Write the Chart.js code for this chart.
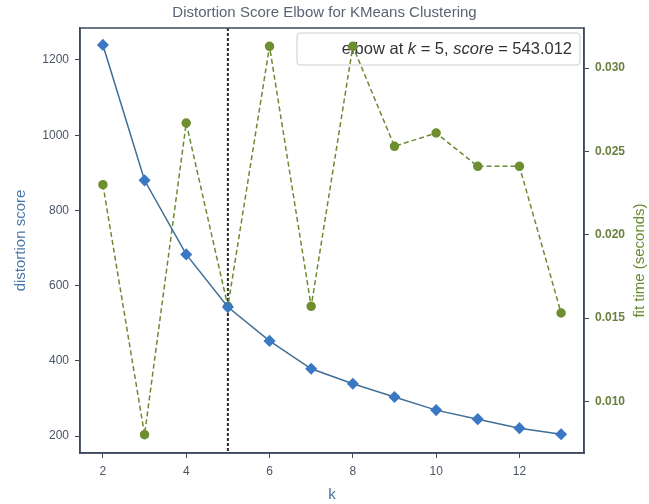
<!DOCTYPE html>
<html>
<head>
<meta charset="utf-8">
<script src="https://cdn.jsdelivr.net/npm/chart.js@4"></script>
<style>
html,body{margin:0;padding:0;background:#fff;}
#wrap{width:649px;height:504px;}
</style>
</head>
<body>
<div id="wrap"><canvas id="c" width="649" height="504"></canvas></div>
<script>
const kValues = [2,3,4,5,6,7,8,9,10,11,12,13];
const distortionScores = [1240,880,683,543.012,453,379,339,304,269,245,221,205];
const fitTimes = [0.0230,0.0080,0.0267,0.0157,0.0313,0.0157,0.0313,0.0253,0.0261,0.0241,0.0241,0.0153];
const xTicks = [2,4,6,8,10,12];
const leftTicks = [200,400,600,800,1000,1200];
const rightTicks = [0.010,0.015,0.020,0.025,0.030];
const elbowK = 5;
const elbowScore = 543.012;

const FONT = "'Liberation Sans', Arial, sans-serif";
const frameColor = '#3d4a5c';

const elbowPlugin = {
  id: 'elbow',
  beforeDatasetsDraw(chart){
    const {ctx, chartArea, scales} = chart;
    const x = scales.x.getPixelForValue(elbowK);
    ctx.save();
    ctx.strokeStyle = '#2a2a2a';
    ctx.lineWidth = 2;
    ctx.setLineDash([3,2]);
    ctx.beginPath();
    ctx.moveTo(x, chartArea.top);
    ctx.lineTo(x, chartArea.bottom);
    ctx.stroke();
    ctx.restore();
    // legend box (drawn beneath the data marks)
    ctx.save();
    const bx = chartArea.right - 287, by = chartArea.top + 5, bw = 283, bh = 32;
    ctx.fillStyle = 'rgba(255,255,255,0.9)';
    ctx.strokeStyle = '#cfcfcf';
    ctx.lineWidth = 1;
    ctx.beginPath();
    if (ctx.roundRect) ctx.roundRect(bx, by, bw, bh, 3); else ctx.rect(bx,by,bw,bh);
    ctx.fill(); ctx.stroke();
    const parts = [
      ['elbow at ', 'normal'],
      ['k', 'italic'],
      [' = ' + elbowK + ', ', 'normal'],
      ['score', 'italic'],
      [' = ' + elbowScore.toFixed(3), 'normal']
    ];
    ctx.fillStyle = '#333';
    ctx.textBaseline = 'middle';
    ctx.textAlign = 'left';
    let total = 0;
    parts.forEach(p => { ctx.font = p[1] + ' 16.5px ' + FONT; total += ctx.measureText(p[0]).width; });
    let tx = bx + bw - 8 - total;
    const ty = by + bh/2;
    parts.forEach(p => { ctx.font = p[1] + ' 16.5px ' + FONT; ctx.fillText(p[0], tx, ty); tx += ctx.measureText(p[0]).width; });
    ctx.restore();
  },
  afterDraw(chart){
    const {ctx, chartArea} = chart;
    ctx.save();
    ctx.strokeStyle = frameColor;
    ctx.lineWidth = 1.5;
    ctx.strokeRect(chartArea.left, chartArea.top, chartArea.right-chartArea.left, chartArea.bottom-chartArea.top);
    ctx.translate(640, (chartArea.top + chartArea.bottom)/2 + 20);
    ctx.rotate(-Math.PI/2);
    ctx.font = '15px ' + FONT;
    ctx.fillStyle = '#6b8a33';
    ctx.textAlign = 'center';
    ctx.textBaseline = 'middle';
    ctx.fillText('fit time (seconds)', 0, 0);
    ctx.restore();
  }
};

new Chart(document.getElementById('c'), {
  type: 'line',
  data: {
    datasets: [
      {
        label: 'distortion score',
        data: kValues.map((k,i)=>({x:k, y:distortionScores[i]})),
        yAxisID: 'y',
        borderColor: '#3f6e96',
        backgroundColor: '#3b78c4',
        pointBackgroundColor: '#3b78c4',
        pointBorderColor: '#3b78c4',
        pointStyle: 'rectRot',
        pointRadius: 5,
        borderWidth: 1.5,
        tension: 0
      },
      {
        label: 'fit time',
        data: kValues.map((k,i)=>({x:k, y:fitTimes[i]})),
        yAxisID: 'y1',
        borderColor: '#6b8a33',
        backgroundColor: '#6e8f30',
        pointBackgroundColor: '#6e8f30',
        pointBorderColor: '#6e8f30',
        pointStyle: 'circle',
        pointRadius: 4,
        borderWidth: 1.5,
        borderDash: [5,3],
        tension: 0
      }
    ]
  },
  options: {
    responsive: false,
    animation: false,
    layout: { padding: 0 },
    plugins: {
      legend: { display: false },
      tooltip: { enabled: false },
      title: {
        display: true,
        text: 'Distortion Score Elbow for KMeans Clustering',
        color: '#5a6472',
        font: { family: FONT, size: 15, weight: 'normal' },
        padding: { top: 4, bottom: 6 }
      }
    },
    scales: {
      x: {
        type: 'linear',
        min: 1.45, max: 13.55,
        afterBuildTicks(s){ s.ticks = xTicks.map(v=>({value:v})); },
        afterFit(s){ s.height = 51; },
        grid: { display: true, drawOnChartArea: false, drawTicks: true, tickLength: 5, color: frameColor },
        border: { display: true, color: frameColor, width: 1.5 },
        ticks: { color: '#4a5566', font: { family: FONT, size: 12 }, padding: 6, maxRotation: 0, callback: v => String(v) },
        title: { display: true, text: 'k', color: '#4a6e96', font: { family: FONT, size: 15 }, padding: { top: 0, bottom: 0 } }
      },
      y: {
        type: 'linear',
        position: 'left',
        min: 155, max: 1285,
        afterBuildTicks(s){ s.ticks = leftTicks.map(v=>({value:v})); },
        afterFit(s){ s.width = 80; },
        grid: { display: true, drawOnChartArea: false, drawTicks: true, tickLength: 5, color: frameColor },
        border: { display: true, color: frameColor, width: 1.5 },
        ticks: { color: '#4a5566', font: { family: FONT, size: 12 }, padding: 6, callback: v => String(v) },
        title: { display: true, text: 'distortion score', color: '#4a78a8', font: { family: FONT, size: 15 }, padding: { top: 12, bottom: 0 } }
      },
      y1: {
        type: 'linear',
        position: 'right',
        min: 0.0069, max: 0.0324,
        afterBuildTicks(s){ s.ticks = rightTicks.map(v=>({value:v})); },
        afterFit(s){ s.width = 65; },
        grid: { display: true, drawOnChartArea: false, drawTicks: true, tickLength: 5, color: frameColor },
        border: { display: true, color: frameColor, width: 1.5 },
        ticks: { color: '#6b8040', font: { family: FONT, size: 12, weight: 'bold' }, padding: 6, callback: v => v.toFixed(3) },
        title: { display: false }
      }
    }
  },
  plugins: [elbowPlugin]
});
</script>
</body>
</html>
